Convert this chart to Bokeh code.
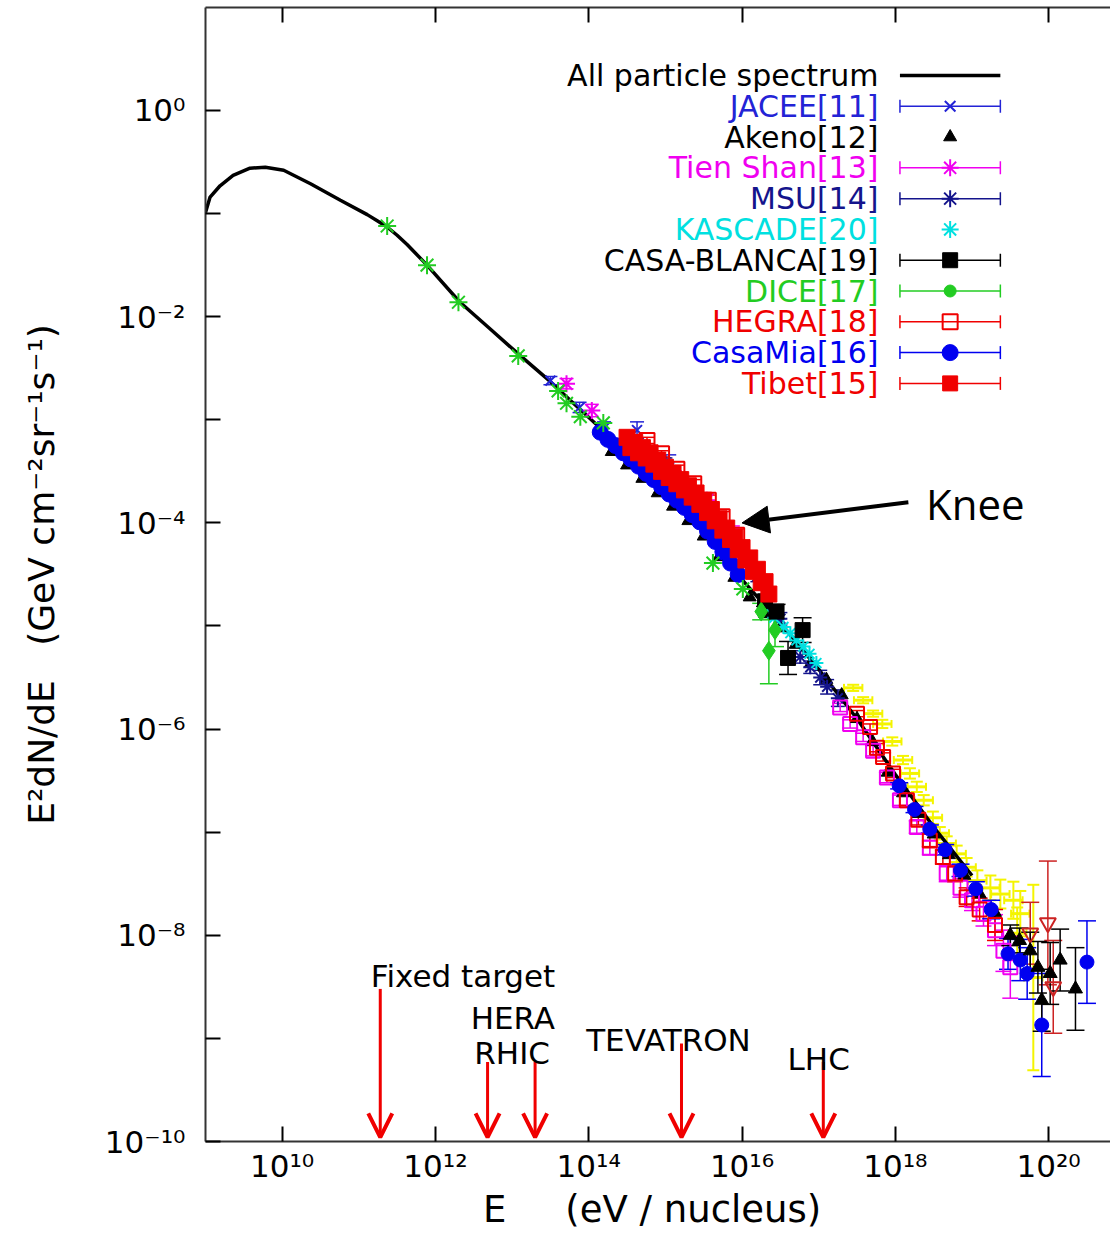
from bokeh.plotting import figure
from bokeh.models import (Range1d, FixedTicker, LogAxis, Whisker, TeeHead, ColumnDataSource,
                          Arrow, NormalHead, OpenHead, Label)
from bokeh.core.properties import value
from bokeh.embed import file_html
from bokeh.resources import INLINE

FONT = "DejaVu Sans"

# ---------------- data: log10(E / eV)  and  log10(E^2 dN/dE) ----------------
all_logE = [9.00, 9.06, 9.19, 9.36, 9.58, 9.78, 10.02, 10.37, 10.76, 11.11, 11.24, 11.37, 11.50, 11.63,
            11.89, 12.32, 12.70, 13.11, 13.50, 13.80, 14.15, 14.50, 15.00, 15.50, 16.00, 16.50, 17.00,
            17.50, 18.00, 18.50, 19.00]
all_logF = [-0.99, -0.84, -0.73, -0.63, -0.56, -0.55, -0.58, -0.71, -0.87, -1.01, -1.07, -1.13, -1.21, -1.30,
            -1.50, -1.86, -2.11, -2.38, -2.63, -2.84, -3.08, -3.33, -3.70, -4.08, -4.55, -4.97, -5.42,
            -5.90, -6.44, -6.95, -7.42]

jacee_logE = [13.50, 13.88, 14.20, 14.63, 15.05]
jacee_logF = [-2.62, -2.88, -3.08, -3.10, -3.46]
jacee_err = [0.04, 0.05, 0.06, 0.08, 0.12]

akeno_logE = [14.30, 14.50, 14.70, 14.90, 15.10, 15.30, 15.50, 15.70, 15.90, 16.10, 16.30, 16.50, 16.70,
              16.90, 17.10, 17.30, 17.50, 17.70, 17.90, 18.10, 18.30, 18.50, 18.70, 18.90, 19.10, 19.30]
akeno_logF = [-3.31, -3.44, -3.57, -3.71, -3.84, -3.98, -4.13, -4.33, -4.53, -4.72, -4.88, -5.02, -5.18,
              -5.36, -5.52, -5.67, -5.90, -6.12, -6.42, -6.62, -6.82, -7.02, -7.22, -7.42, -7.60, -7.78]

tienshan_logE = [13.71, 14.04, 15.20, 15.54, 15.88]
tienshan_logF = [-2.65, -2.91, -3.57, -3.78, -4.10]
tienshan_err = [0.05, 0.06, 0.05, 0.06, 0.07]

msu_logE = [15.00, 15.30, 15.60, 15.90, 16.20, 16.50, 16.76, 16.89, 17.02, 17.11, 17.25]
msu_logF = [-3.41, -3.63, -3.86, -4.16, -4.52, -4.93, -5.30, -5.40, -5.50, -5.59, -5.70]
msu_err = [0.04, 0.04, 0.05, 0.05, 0.05, 0.06, 0.06, 0.06, 0.07, 0.07, 0.08]

kascade_logE = [16.30, 16.42, 16.54, 16.63, 16.71, 16.80, 16.88, 16.97]
kascade_logF = [-4.82, -4.92, -5.01, -5.07, -5.14, -5.20, -5.27, -5.36]

casablanca_logE = [16.30, 16.45, 16.60, 16.79]
casablanca_logF = [-4.76, -4.86, -5.31, -5.04]
casablanca_err = [0.05, 0.07, 0.16, 0.12]

dice_logE = [16.25, 16.43, 16.35]
dice_logF = [-4.86, -5.04, -5.24]
dice_err = [0.08, 0.16, 0.32]

hegra_logE = [14.76, 14.95, 15.15, 15.37, 15.56, 15.74, 15.93]
hegra_logF = [-3.20, -3.33, -3.48, -3.62, -3.78, -3.94, -4.12]
hegra_err = [0.03, 0.03, 0.04, 0.04, 0.05, 0.05, 0.06]

casamia_logE = [14.15, 14.25, 14.35, 14.45, 14.55, 14.65, 14.75, 14.85, 14.95, 15.05, 15.15, 15.25,
                15.35, 15.45, 15.55, 15.65, 15.75, 15.85, 15.95]
casamia_logF = [-3.12, -3.19, -3.25, -3.32, -3.38, -3.45, -3.52, -3.58, -3.65, -3.72, -3.78, -3.85,
                -3.92, -3.99, -4.08, -4.18, -4.28, -4.39, -4.50]
casamia_err = [0.03] * 19

tibet_logE = [14.50, 14.60, 14.70, 14.80, 14.90, 15.00, 15.10, 15.20, 15.30, 15.40, 15.50, 15.60, 15.70,
              15.80, 15.90, 16.00, 16.10, 16.20, 16.30,
              14.55, 14.65, 14.75, 14.85, 14.95, 15.05, 15.15, 15.25, 15.35, 15.45, 15.55, 15.65, 15.75,
              15.85, 15.95, 16.05, 16.15, 16.25, 16.35]
tibet_logF = [-3.17, -3.22, -3.27, -3.32, -3.39, -3.46, -3.52, -3.58, -3.64, -3.71, -3.78, -3.87, -3.96,
              -4.05, -4.14, -4.24, -4.34, -4.45, -4.57,
              -3.27, -3.32, -3.37, -3.43, -3.50, -3.56, -3.62, -3.68, -3.75, -3.82, -3.90, -3.98, -4.07,
              -4.16, -4.26, -4.36, -4.47, -4.58, -4.69]
tibet_err = [0.03] * 38

# series without a visible legend entry
green_logE = [11.37, 11.89, 12.30, 13.08, 13.60, 13.71, 13.89, 14.19, 15.62, 16.01]
green_logF = [-1.12, -1.50, -1.86, -2.38, -2.72, -2.84, -2.97, -3.03, -4.39, -4.64]

yellow_logE = [17.45, 17.58, 17.71, 17.83, 17.96, 18.10, 18.19, 18.28, 18.37, 18.49, 18.58, 18.67, 18.80,
               18.93, 19.07, 19.24, 19.37, 19.54, 19.63, 19.59, 19.80]
yellow_logF = [-5.60, -5.72, -5.85, -5.95, -6.12, -6.30, -6.43, -6.56, -6.69, -6.86, -7.01, -7.11, -7.21,
               -7.34, -7.47, -7.54, -7.60, -7.66, -7.79, -7.98, -8.41]
yellow_err = [0.03, 0.03, 0.03, 0.04, 0.04, 0.04, 0.05, 0.05, 0.05, 0.06, 0.06, 0.07, 0.08, 0.09, 0.10,
              0.12, 0.14, 0.18, 0.22, 0.25, 0.90]
yellow_bin = 0.12

mag_logE = [17.28, 17.41, 17.58, 17.71, 17.89, 18.06, 18.28, 18.45, 18.67, 18.85, 19.00, 19.15, 19.30, 19.41, 19.50]
mag_logF = [-5.79, -5.95, -6.08, -6.21, -6.47, -6.69, -6.95, -7.15, -7.40, -7.54, -7.66, -7.79, -7.95, -8.15, -8.31]
mag_err = [0.04, 0.04, 0.04, 0.05, 0.05, 0.05, 0.06, 0.07, 0.08, 0.09, 0.10, 0.12, 0.15, 0.20, 0.30]

redo_logE = [17.50, 17.67, 17.76, 17.84, 17.97, 18.15, 18.30, 18.45, 18.62, 18.78, 18.93, 19.10, 19.30]
redo_logF = [-5.85, -5.98, -6.18, -6.27, -6.43, -6.69, -6.88, -7.08, -7.24, -7.40, -7.63, -7.75, -7.90]
redo_err = [0.03, 0.03, 0.04, 0.04, 0.04, 0.05, 0.05, 0.06, 0.07, 0.08, 0.09, 0.11, 0.15]

redtri_logE = [19.76, 19.99, 20.06]
redtri_logF = [-7.98, -7.88, -8.50]
redtri_err = [0.30, 0.60, 0.45]

bluu_logE = [18.05, 18.25, 18.45, 18.65, 18.85, 19.05, 19.25, 19.47, 19.63, 19.72, 19.91, 20.50]
bluu_logF = [-6.55, -6.78, -6.97, -7.17, -7.37, -7.55, -7.75, -8.18, -8.24, -8.37, -8.87, -8.26]
bluu_err = [0.03, 0.03, 0.04, 0.05, 0.06, 0.07, 0.09, 0.15, 0.20, 0.25, 0.50, 0.40]

blku_logE = [19.50, 19.62, 19.76, 19.86, 19.91, 20.02, 20.15, 20.35]
blku_logF = [-8.00, -8.05, -8.15, -8.31, -8.63, -8.37, -8.24, -8.52]
blku_err = [0.10, 0.12, 0.18, 0.25, 0.30, 0.30, 0.30, 0.40]

# accelerator markers
acc_names = ["Fixed target", "HERA", "RHIC", "TEVATRON", "LHC"]
acc_logE = [11.28, 12.68, 13.30, 15.21, 17.06]
acc_top_logF = [-8.52, -9.23, -9.23, -9.05, -9.23]
acc_tip_logF = -9.96
acc_label_logE = [12.36, 13.01, 13.00, 15.04, 17.00]
acc_label_logF = [-8.39, -8.80, -9.14, -9.02, -9.20]

knee_text = "Knee"
knee_text_pos = (18.40, -3.81)
knee_tail = (18.17, -3.80)
knee_tip = (16.00, -4.00)

x_ticks_exp = [10, 12, 14, 16, 18, 20]
y_ticks_exp = list(range(-10, 1))
y_label_exp = [-10, -8, -6, -4, -2, 0]

leg_labels = ["All particle spectrum", "JACEE[11]", "Akeno[12]", "Tien Shan[13]", "MSU[14]",
              "KASCADE[20]", "CASA-BLANCA[19]", "DICE[17]", "HEGRA[18]", "CasaMia[16]", "Tibet[15]"]

# ---------------- colours ----------------
BLACK = "#000000"
JBLUE = "#2323d6"
NAVY = "#14148c"
BLUE = "#0000f0"
MAG = "#f000f0"
CYAN = "#00e0e0"
GREEN = "#22cc22"
RED = "#f00000"
YEL = "#f4f400"

leg_colors = [BLACK, JBLUE, BLACK, MAG, NAVY, CYAN, BLACK, GREEN, RED, BLUE, RED]


def P(a):
    return [10.0 ** v for v in a]


sup = str.maketrans("-0123456789", "\u207b\u2070\u00b9\u00b2\u00b3\u2074\u2075\u2076\u2077\u2078\u2079")


def tlab(k):
    return "10" + str(k).translate(sup)


p = figure(width=1110, height=1235, x_axis_type="log", y_axis_type="log",
           x_range=Range1d(1e9, 10 ** 20.807), y_range=Range1d(1e-10, 10 ** 0.999),
           output_backend="svg", toolbar_location=None,
           min_border_left=205, min_border_right=0, min_border_top=7, min_border_bottom=94,
           background_fill_color="white", border_fill_color="white", outline_line_color=None)
p.xgrid.visible = False
p.ygrid.visible = False

AX_COL = "#333333"

xt = [float("1e%d" % k) for k in x_ticks_exp]
yt = [float("1e%d" % k) for k in y_ticks_exp]

xa = p.xaxis[0]
xa.ticker = FixedTicker(ticks=xt, minor_ticks=[])
xa.major_label_overrides = {float("1e%d" % k): tlab(k) for k in x_ticks_exp}
ya = p.yaxis[0]
ya.ticker = FixedTicker(ticks=yt, minor_ticks=[])
ya.major_label_overrides = {float("1e%d" % k): (tlab(k) if k in y_label_exp else "") for k in y_ticks_exp}

for ax in (xa, ya):
    ax.axis_line_color = AX_COL
    ax.axis_line_width = 2
    ax.major_tick_line_color = BLACK
    ax.major_tick_line_width = 2
    ax.major_tick_in = 15
    ax.major_tick_out = 0
    ax.minor_tick_in = 0
    ax.minor_tick_out = 0
    ax.major_label_text_font = FONT
    ax.major_label_text_font_size = "31px"
    ax.major_label_text_color = BLACK
    ax.axis_label_text_font = FONT
    ax.axis_label_text_font_style = "normal"
    ax.axis_label_text_color = BLACK

xa.major_label_standoff = 6
xa.axis_label_standoff = 1
xa.axis_label_text_font_size = "37px"
xa.axis_label = "E\u00a0\u00a0\u00a0\u00a0\u00a0(eV / nucleus)\u00a0"
ya.major_label_standoff = 20
ya.axis_label_standoff = 40
ya.axis_label_text_font_size = "36px"
ya.axis_label = "E\u00b2dN/dE\u00a0\u00a0\u00a0(GeV\u00a0cm\u207b\u00b2sr\u207b\u00b9s\u207b\u00b9)"

top = LogAxis(ticker=FixedTicker(ticks=xt, minor_ticks=[]), axis_line_color=AX_COL, axis_line_width=2,
              major_tick_line_color=BLACK, major_tick_line_width=2, major_tick_in=15, major_tick_out=0,
              minor_tick_in=0, minor_tick_out=0, major_label_standoff=0,
              major_label_text_font_size="0px",
              major_label_overrides={float("1e%d" % k): "" for k in x_ticks_exp})
p.add_layout(top, "above")


def errbars(logE, logF, err, color, cap=14, lw=1.5):
    src = ColumnDataSource(dict(base=P(logE),
                                lo=[10 ** (f - e) for f, e in zip(logF, err)],
                                hi=[10 ** (f + e) for f, e in zip(logF, err)]))
    p.add_layout(Whisker(source=src, base="base", lower="lo", upper="hi", dimension="height",
                         line_color=color, line_width=lw,
                         upper_head=TeeHead(size=cap, line_color=color, line_width=lw),
                         lower_head=TeeHead(size=cap, line_color=color, line_width=lw)))


# all-particle spectrum
p.line(P(all_logE), P(all_logF), line_color=BLACK, line_width=3.5)

# JACEE
errbars(jacee_logE, jacee_logF, jacee_err, JBLUE)
p.scatter(P(jacee_logE), P(jacee_logF), marker="x", size=14, line_color=JBLUE, line_width=2)
# Akeno
p.scatter(P(akeno_logE), P(akeno_logF), marker="triangle", size=13, fill_color=BLACK, line_color=BLACK)
# Tien Shan
errbars(tienshan_logE, tienshan_logF, tienshan_err, MAG)
p.scatter(P(tienshan_logE), P(tienshan_logF), marker="asterisk", size=17, line_color=MAG, line_width=2)
# MSU
errbars(msu_logE, msu_logF, msu_err, NAVY)
p.scatter(P(msu_logE), P(msu_logF), marker="asterisk", size=14, line_color=NAVY, line_width=2)
# KASCADE
p.scatter(P(kascade_logE), P(kascade_logF), marker="asterisk", size=14, line_color=CYAN, line_width=2)
# CASA-BLANCA
errbars(casablanca_logE, casablanca_logF, casablanca_err, BLACK, cap=18)
p.scatter(P(casablanca_logE), P(casablanca_logF), marker="square", size=15, fill_color=BLACK, line_color=BLACK)
# DICE
errbars(dice_logE, dice_logF, dice_err, GREEN, cap=18)
p.scatter(P(dice_logE), P(dice_logF), marker="diamond", size=19, fill_color=GREEN, line_color=GREEN)
# HEGRA
errbars(hegra_logE, hegra_logF, hegra_err, RED)
p.scatter(P(hegra_logE), P(hegra_logF), marker="square", size=15, fill_color=None, line_color=RED, line_width=2)
# CasaMia
errbars(casamia_logE, casamia_logF, casamia_err, BLUE, cap=10)
p.scatter(P(casamia_logE), P(casamia_logF), marker="circle", size=16, fill_color=BLUE, line_color=BLUE)
# Tibet
errbars(tibet_logE, tibet_logF, tibet_err, RED, cap=10)
p.scatter(P(tibet_logE), P(tibet_logF), marker="square", size=16, fill_color=RED, line_color=RED)

# other experiments (legend entries not shown in the figure)
p.scatter(P(green_logE), P(green_logF), marker="asterisk", size=18, line_color=GREEN, line_width=2)

errbars(yellow_logE, yellow_logF, yellow_err, YEL, cap=12, lw=2)
ysrc = ColumnDataSource(dict(base=P(yellow_logF),
                             lo=[10 ** (e - yellow_bin) for e in yellow_logE],
                             hi=[10 ** (e + yellow_bin) for e in yellow_logE]))
p.add_layout(Whisker(source=ysrc, base="base", lower="lo", upper="hi", dimension="width",
                     line_color=YEL, line_width=3,
                     upper_head=TeeHead(size=8, line_color=YEL, line_width=2),
                     lower_head=TeeHead(size=8, line_color=YEL, line_width=2)))

errbars(mag_logE, mag_logF, mag_err, MAG, cap=16)
p.scatter(P(mag_logE), P(mag_logF), marker="square", size=14, fill_color=None, line_color=MAG, line_width=2)

errbars(redo_logE, redo_logF, redo_err, RED, cap=16)
p.scatter(P(redo_logE), P(redo_logF), marker="square", size=14, fill_color=None, line_color=RED, line_width=2)
errbars(redtri_logE, redtri_logF, redtri_err, "#cc2222", cap=18)
p.scatter(P(redtri_logE), P(redtri_logF), marker="inverted_triangle", size=16, fill_color=None,
          line_color="#cc2222", line_width=2)

errbars(bluu_logE, bluu_logF, bluu_err, BLUE, cap=18)
p.scatter(P(bluu_logE), P(bluu_logF), marker="circle", size=14, fill_color=BLUE, line_color=BLUE)

errbars(blku_logE, blku_logF, blku_err, BLACK, cap=18)
p.scatter(P(blku_logE), P(blku_logF), marker="triangle", size=14, fill_color=BLACK, line_color=BLACK)

# ---------------- legend (label on the left, sample on the right) ----------------
LEG_TEXT_X = 10 ** 17.78
LEG_L, LEG_M, LEG_R = 10 ** 18.06, 10 ** 18.715, 10 ** 19.37
LEG_TOP, LEG_STEP = 0.34, 0.2987
leg_y = [10 ** (LEG_TOP - LEG_STEP * i) for i in range(len(leg_labels))]

p.text(x=[LEG_TEXT_X] * len(leg_labels), y=leg_y, text=leg_labels, text_color=leg_colors,
       text_align="right", text_baseline="middle", text_font=value(FONT), text_font_size="30px")

p.segment(x0=[LEG_L], y0=[leg_y[0]], x1=[LEG_R], y1=[leg_y[0]], line_color=BLACK, line_width=3.5)
bar_rows = [1, 3, 4, 6, 7, 8, 9, 10]
for i in bar_rows:
    src = ColumnDataSource(dict(base=[leg_y[i]], lo=[LEG_L], hi=[LEG_R]))
    c = leg_colors[i]
    p.add_layout(Whisker(source=src, base="base", lower="lo", upper="hi", dimension="width",
                         line_color=c, line_width=1.5,
                         upper_head=TeeHead(size=13, line_color=c, line_width=1.5),
                         lower_head=TeeHead(size=13, line_color=c, line_width=1.5)))

leg_styles = [
    None,
    dict(marker="x", size=15, line_color=JBLUE, line_width=2),
    dict(marker="triangle", size=13, fill_color=BLACK, line_color=BLACK),
    dict(marker="asterisk", size=17, line_color=MAG, line_width=2),
    dict(marker="asterisk", size=17, line_color=NAVY, line_width=2),
    dict(marker="asterisk", size=17, line_color=CYAN, line_width=2),
    dict(marker="square", size=15, fill_color=BLACK, line_color=BLACK),
    dict(marker="circle", size=12, fill_color=GREEN, line_color=GREEN),
    dict(marker="square", size=15, fill_color=None, line_color=RED, line_width=2),
    dict(marker="circle", size=16, fill_color=BLUE, line_color=BLUE),
    dict(marker="square", size=15, fill_color=RED, line_color=RED),
]
for i, st in enumerate(leg_styles):
    if st is None:
        continue
    p.scatter([LEG_M], [leg_y[i]], **st)

# ---------------- annotations ----------------
for name, le, lt, lx, ly in zip(acc_names, acc_logE, acc_top_logF, acc_label_logE, acc_label_logF):
    p.add_layout(Arrow(x_start=10 ** le, y_start=10 ** lt, x_end=10 ** le, y_end=10 ** acc_tip_logF,
                       line_color=RED, line_width=3,
                       end=OpenHead(size=24, line_color=RED, line_width=4)))
    p.add_layout(Label(x=10 ** lx, y=10 ** ly, text=name, text_align="center", text_baseline="alphabetic",
                       text_font=FONT, text_font_size="31px", text_color=BLACK))

p.add_layout(Arrow(x_start=10 ** knee_tail[0], y_start=10 ** knee_tail[1],
                   x_end=10 ** knee_tip[0], y_end=10 ** knee_tip[1],
                   line_color=BLACK, line_width=4,
                   end=NormalHead(size=27, fill_color=BLACK, line_color=BLACK)))
p.add_layout(Label(x=10 ** knee_text_pos[0], y=10 ** knee_text_pos[1], text=knee_text,
                   text_align="left", text_baseline="alphabetic",
                   text_font="Open Sans", text_font_size="42px", text_color=BLACK))

open("out.html", "w").write(file_html(p, INLINE))
